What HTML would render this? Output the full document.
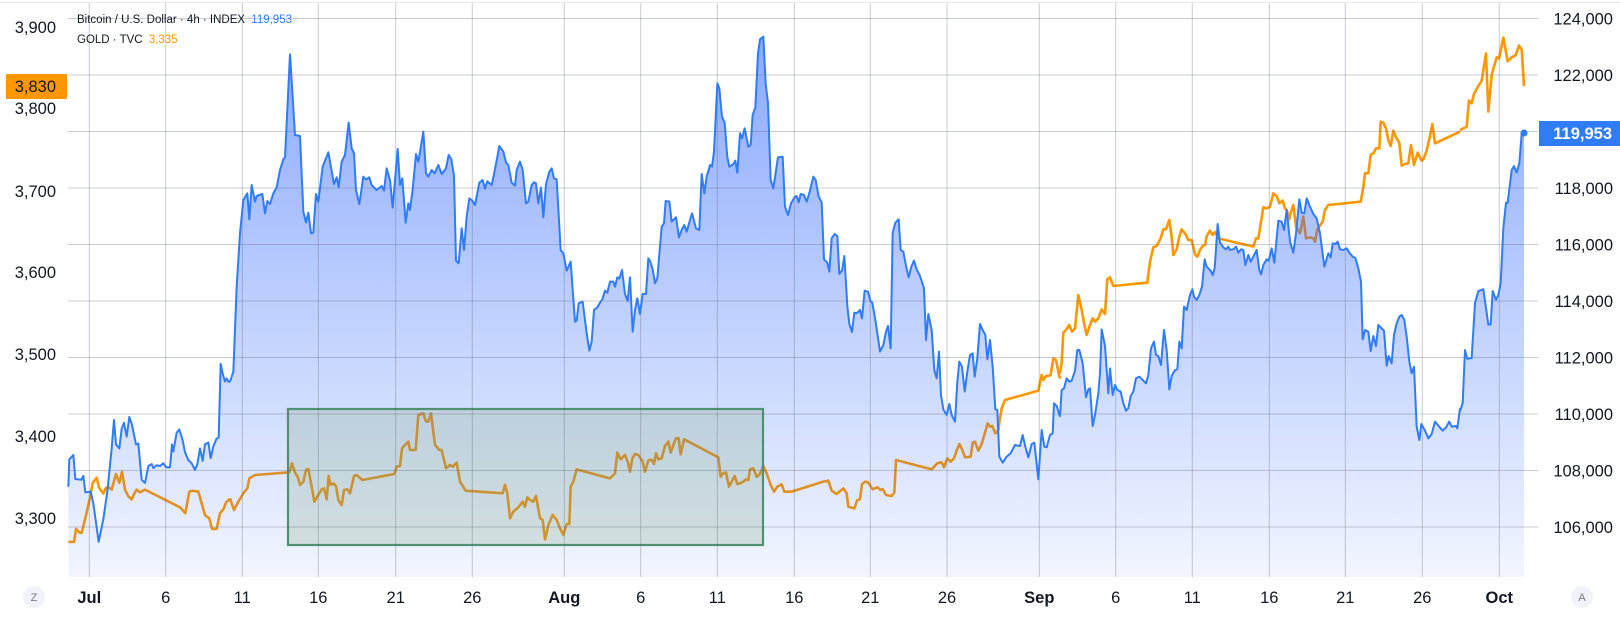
<!DOCTYPE html>
<html><head><meta charset="utf-8"><style>
body{margin:0;background:#fff;}
svg{display:block;font-family:"Liberation Sans",sans-serif;}
</style></head><body>
<svg width="1620" height="617" viewBox="0 0 1620 617" xmlns="http://www.w3.org/2000/svg">
<defs>
<linearGradient id="bf" gradientUnits="userSpaceOnUse" x1="0" y1="20" x2="0" y2="577">
<stop offset="0" stop-color="#2962ff" stop-opacity="0.56"/>
<stop offset="1" stop-color="#2962ff" stop-opacity="0.06"/>
</linearGradient>
<clipPath id="cp">
<polygon transform="translate(0,0.33) scale(0.33333,0.393)" points="205,1470 205,1238 208,1168 220,1157 226,1218 244,1220 250,1210 256,1252 272,1250 280,1280 296,1378 310,1320 322,1250 335,1140 342,1068 348,1130 358,1140 365,1090 372,1075 380,1110 388,1060 396,1080 408,1130 415,1128 425,1220 435,1228 445,1185 455,1180 460,1190 470,1183 480,1185 490,1178 498,1188 510,1188 516,1130 520,1148 530,1100 538,1092 548,1120 555,1150 565,1170 575,1178 585,1195 592,1180 600,1140 608,1172 615,1130 625,1125 632,1165 640,1135 650,1115 656,1113 662,925 668,950 675,970 680,962 685,970 692,968 692,1470"/>
<polygon transform="translate(230,20) scale(0.33333)" points="-1,1672 -1,1085 10,1055 20,800 30,640 40,540 52,520 58,598 65,495 75,545 80,528 97,522 105,580 112,543 120,552 130,520 140,502 150,450 160,418 165,412 180,103 195,345 210,348 220,575 228,607 235,578 243,640 250,638 258,522 265,545 278,440 295,397 312,492 320,472 326,502 335,425 345,405 356,308 365,385 372,400 378,510 388,552 400,470 408,478 418,472 425,495 440,510 455,498 462,512 470,445 480,480 488,563 503,387 510,495 517,475 527,608 535,550 540,570 548,508 558,402 565,425 580,335 588,460 595,470 605,450 614,460 625,435 635,462 648,445 656,405 664,418 672,468 678,722 686,730 695,625 702,690 710,590 718,535 727,542 735,555 748,488 758,480 765,506 772,484 785,495 795,448 808,378 820,395 828,428 835,435 845,488 855,497 860,450 870,425 878,450 888,550 895,545 905,495 912,487 918,490 925,550 933,503 940,592 948,492 958,455 965,445 972,475 980,478 992,690 1000,700 1010,752 1022,725 1035,905 1040,902 1046,850 1058,845 1070,940 1078,992 1085,965 1092,870 1102,862 1110,848 1117,838 1125,812 1132,818 1140,785 1150,785 1155,800 1162,772 1168,776 1176,750 1185,822 1193,843 1200,772 1208,935 1215,870 1222,835 1230,882 1238,822 1248,822 1255,715 1262,725 1262,1672"/>
<polygon transform="translate(640,20) scale(0.33333)" points="29,1672 29,725 38,748 45,790 52,775 65,620 72,610 77,543 88,545 95,605 108,592 117,652 125,630 133,615 140,635 150,600 156,580 168,625 178,630 185,462 193,520 200,470 210,435 216,440 222,395 232,190 238,205 246,290 254,308 262,412 268,440 280,432 286,422 292,458 300,340 306,355 314,325 325,380 332,375 338,285 346,262 354,100 360,58 370,50 377,190 384,250 392,480 400,505 414,412 428,410 435,560 444,585 453,550 465,530 470,528 476,547 482,522 492,525 500,545 510,512 520,470 527,480 536,530 545,547 552,718 562,728 568,755 575,655 584,642 592,648 598,762 606,752 613,708 622,858 628,912 636,936 643,878 650,880 660,870 666,895 674,812 684,815 692,845 697,848 706,900 712,940 720,995 730,975 738,935 744,918 752,985 758,638 766,608 776,598 782,690 790,695 797,733 806,772 814,740 822,722 830,748 840,768 852,805 858,960 865,882 875,930 883,1050 890,1075 897,995 903,1125 910,1168 920,1185 928,1152 935,1185 945,1205 952,1085 958,1025 966,1040 974,1115 982,1055 990,1005 998,1000 1004,1070 1012,1015 1020,912 1028,930 1036,945 1042,1018 1050,960 1058,1040 1066,1168 1072,1170 1078,1310 1088,1328 1100,1310 1112,1300 1125,1275 1140,1278 1148,1245 1156,1280 1165,1312 1175,1272 1183,1268 1195,1378 1205,1230 1213,1280 1220,1282 1230,1245 1238,1240 1242,1150 1250,1158 1262,1195 1262,1672"/>
<polygon transform="translate(1040,20) scale(0.33333)" points="59,1672 59,1190 65,1110 72,1105 80,1075 88,1085 95,1082 105,1052 112,990 118,990 128,1030 138,1132 145,1108 150,1105 158,1218 165,1185 175,1120 180,1060 185,928 195,978 205,1120 210,1045 218,1125 225,1095 232,1110 242,1115 250,1150 258,1172 265,1165 272,1128 280,1115 288,1075 298,1070 310,1082 318,1090 325,1065 333,985 342,965 348,1005 355,1008 363,1035 372,930 380,990 388,1108 395,1068 405,1050 412,1048 418,965 425,985 432,860 440,870 450,825 457,808 462,830 470,840 478,825 486,800 494,718 500,740 512,752 518,765 524,745 533,612 540,668 550,682 558,688 565,680 570,690 580,688 588,680 595,698 603,688 610,690 616,735 625,705 632,725 640,710 650,690 658,750 663,763 670,735 680,718 686,722 695,685 703,728 715,602 725,605 732,630 740,570 750,665 760,698 768,640 778,538 785,578 793,580 800,535 810,560 820,582 830,595 840,640 853,740 865,700 872,712 878,670 886,672 893,665 900,688 910,690 920,685 928,698 938,710 946,714 955,745 963,785 968,958 975,930 985,935 992,993 1000,948 1008,978 1015,915 1025,925 1032,932 1040,1037 1046,1008 1055,1030 1062,945 1070,910 1078,890 1085,885 1093,900 1100,950 1108,1025 1115,1060 1122,1040 1130,1220 1138,1260 1144,1212 1155,1232 1165,1255 1175,1242 1185,1205 1196,1218 1208,1232 1218,1222 1228,1205 1235,1220 1248,1218 1252,1225 1262,1162 1262,1672"/>
<polygon transform="translate(1320,0.33) scale(0.33333,0.393)" points="419,1470 419,1048 428,1025 435,890 442,912 455,910 465,770 475,740 490,735 505,825 512,825 518,740 528,762 535,750 542,720 550,580 558,515 563,515 575,432 582,422 590,438 598,415 605,340 612,338 612,1470"/>
</clipPath>
</defs>

<line x1="0" y1="2.5" x2="1620" y2="2.5" stroke="#e6e8ee" stroke-width="1"/>

<!-- gold line (under fill) -->
<g fill="none" stroke="#ff9800" stroke-width="2.6" stroke-linejoin="round">
<polyline vector-effect="non-scaling-stroke" transform="translate(0,0.33) scale(0.33333,0.393)" points="205,1378 222,1378 228,1345 240,1355 245,1355 258,1310 270,1265 278,1228 290,1215 297,1240 310,1255 318,1240 328,1240 335,1245 348,1205 358,1228 366,1200 375,1245 385,1262 395,1270 403,1255 410,1245 420,1252 435,1245 540,1290 556,1305 568,1250 578,1248 595,1250 605,1280 615,1310 628,1318 636,1345 650,1345 660,1305 670,1295 678,1278 690,1268"/>
<polyline vector-effect="non-scaling-stroke" transform="translate(230,20) scale(0.33333)" points="0,1435 12,1470 25,1445 40,1420 52,1405 58,1375 75,1365 178,1357 186,1330 195,1358 203,1370 210,1395 220,1385 228,1350 235,1347 245,1400 253,1445 265,1425 275,1408 282,1405 290,1438 296,1368 302,1395 310,1390 318,1398 325,1440 335,1455 342,1410 352,1408 360,1420 372,1368 380,1365 397,1380 493,1362 500,1340 510,1338 516,1285 525,1275 535,1265 540,1290 557,1290 565,1185 580,1180 588,1205 595,1205 603,1180 615,1275 628,1290 635,1290 648,1345 660,1335 668,1340 680,1328 690,1385 707,1412 818,1420 825,1395 832,1420 840,1495 850,1475 865,1462 878,1445 885,1460 892,1432 900,1440 910,1445 918,1428 930,1495 938,1500 945,1558 955,1515 968,1485 980,1500 990,1525 1000,1545 1010,1512 1018,1512 1022,1400 1030,1385 1040,1348 1140,1375 1155,1360 1162,1298 1172,1318 1185,1305 1193,1325 1200,1355 1207,1315 1215,1302 1225,1305 1238,1325 1245,1355 1255,1322 1260,1318"/>
<polyline vector-effect="non-scaling-stroke" transform="translate(640,20) scale(0.33333)" points="30,1318 35,1320 42,1332 48,1300 55,1318 65,1315 75,1278 85,1265 92,1298 100,1275 108,1255 116,1255 122,1303 132,1258 235,1312 242,1370 250,1360 258,1357 267,1400 275,1385 284,1368 292,1392 300,1390 310,1385 318,1378 325,1380 330,1348 340,1345 350,1370 358,1365 370,1338 380,1360 392,1395 402,1415 412,1400 425,1393 433,1415 455,1415 550,1385 565,1382 575,1412 590,1422 610,1405 620,1420 625,1460 643,1465 652,1440 660,1438 666,1392 675,1385 685,1388 698,1408 712,1402 722,1410 728,1407 738,1425 755,1428 763,1418 768,1320 875,1348 892,1330 905,1327 912,1342 922,1315 932,1325 942,1315 950,1292 958,1272 965,1285 975,1312 992,1310 998,1268 1005,1265 1015,1292 1025,1272 1033,1245 1043,1210 1050,1220 1057,1218 1066,1240 1075,1230 1080,1195 1085,1165 1095,1140 1195,1112 1205,1065 1210,1080 1218,1068 1225,1068 1232,1065 1240,1015 1248,1020 1258,1070 1262,1075"/>
<polyline vector-effect="non-scaling-stroke" transform="translate(1040,20) scale(0.33333)" points="60,1060 65,1030 70,938 78,930 88,915 96,935 105,925 115,825 125,870 132,908 140,945 150,915 158,895 165,905 175,895 185,868 195,882 202,778 210,772 220,798 322,788 330,725 340,682 350,678 362,655 370,628 378,628 388,600 395,650 400,705 410,688 418,650 425,628 435,640 445,660 455,660 465,703 472,710 480,690 488,678 495,675 500,648 510,632 518,645 525,636 535,655 640,680 648,655 655,655 670,562 680,565 690,560 700,520 710,528 718,550 728,542 735,565 740,570 748,598 752,578 760,555 768,620 780,640 790,590 798,655 810,652 820,655 825,665 832,628 848,605 855,570 865,555 962,545 970,502 975,460 985,460 992,405 1000,400 1008,385 1018,385 1022,305 1030,308 1038,325 1045,360 1052,378 1060,332 1068,352 1078,368 1085,437 1095,432 1105,430 1113,375 1122,435 1133,398 1145,422 1150,418 1160,392 1170,348 1177,312 1185,370 1260,335"/>
<polyline vector-effect="non-scaling-stroke" transform="translate(1320,0.33) scale(0.33333,0.393)" points="420,330 440,322 447,255 455,262 462,238 475,218 485,205 498,135 505,283 515,190 530,145 537,148 550,95 563,155 575,145 587,140 597,115 605,125 612,218"/>
</g>

<!-- BTC fill -->
<rect x="60" y="0" width="1480" height="577" fill="url(#bf)" clip-path="url(#cp)"/>

<!-- green box -->
<rect x="288" y="409" width="475" height="136" fill="rgba(120,160,110,0.22)" stroke="#4f9170" stroke-width="2.2"/>

<!-- grid -->
<g stroke="rgba(90,95,110,0.32)" stroke-width="1">
<line x1="68" y1="18.5" x2="1538" y2="18.5"/>
<line x1="68" y1="75" x2="1538" y2="75"/>
<line x1="68" y1="131.5" x2="1538" y2="131.5"/>
<line x1="68" y1="188" x2="1538" y2="188"/>
<line x1="68" y1="244.5" x2="1538" y2="244.5"/>
<line x1="68" y1="301" x2="1538" y2="301"/>
<line x1="68" y1="357.5" x2="1538" y2="357.5"/>
<line x1="68" y1="414" x2="1538" y2="414"/>
<line x1="68" y1="470.5" x2="1538" y2="470.5"/>
<line x1="68" y1="527" x2="1538" y2="527"/>
<line x1="89.3" y1="3" x2="89.3" y2="577"/>
<line x1="165.7" y1="3" x2="165.7" y2="577"/>
<line x1="242.3" y1="3" x2="242.3" y2="577"/>
<line x1="318.3" y1="3" x2="318.3" y2="577"/>
<line x1="395.7" y1="3" x2="395.7" y2="577"/>
<line x1="472.3" y1="3" x2="472.3" y2="577"/>
<line x1="564.3" y1="3" x2="564.3" y2="577"/>
<line x1="640.7" y1="3" x2="640.7" y2="577"/>
<line x1="717.3" y1="3" x2="717.3" y2="577"/>
<line x1="794.3" y1="3" x2="794.3" y2="577"/>
<line x1="870.3" y1="3" x2="870.3" y2="577"/>
<line x1="947" y1="3" x2="947" y2="577"/>
<line x1="1039.3" y1="3" x2="1039.3" y2="577"/>
<line x1="1115.7" y1="3" x2="1115.7" y2="577"/>
<line x1="1192.3" y1="3" x2="1192.3" y2="577"/>
<line x1="1269.3" y1="3" x2="1269.3" y2="577"/>
<line x1="1345.3" y1="3" x2="1345.3" y2="577"/>
<line x1="1422.3" y1="3" x2="1422.3" y2="577"/>
<line x1="1499.3" y1="3" x2="1499.3" y2="577"/>
</g>

<!-- BTC line -->
<g fill="none" stroke="#2f7cf6" stroke-width="2" stroke-linejoin="round">
<polyline vector-effect="non-scaling-stroke" transform="translate(0,0.33) scale(0.33333,0.393)" points="205,1238 208,1168 220,1157 226,1218 244,1220 250,1210 256,1252 272,1250 280,1280 296,1378 310,1320 322,1250 335,1140 342,1068 348,1130 358,1140 365,1090 372,1075 380,1110 388,1060 396,1080 408,1130 415,1128 425,1220 435,1228 445,1185 455,1180 460,1190 470,1183 480,1185 490,1178 498,1188 510,1188 516,1130 520,1148 530,1100 538,1092 548,1120 555,1150 565,1170 575,1178 585,1195 592,1180 600,1140 608,1172 615,1130 625,1125 632,1165 640,1135 650,1115 656,1113 662,925 668,950 675,970 680,962 685,970 690,972"/>
<polyline vector-effect="non-scaling-stroke" transform="translate(230,20) scale(0.33333)" points="0,1085 10,1055 20,800 30,640 40,540 52,520 58,598 65,495 75,545 80,528 97,522 105,580 112,543 120,552 130,520 140,502 150,450 160,418 165,412 180,103 195,345 210,348 220,575 228,607 235,578 243,640 250,638 258,522 265,545 278,440 295,397 312,492 320,472 326,502 335,425 345,405 356,308 365,385 372,400 378,510 388,552 400,470 408,478 418,472 425,495 440,510 455,498 462,512 470,445 480,480 488,563 503,387 510,495 517,475 527,608 535,550 540,570 548,508 558,402 565,425 580,335 588,460 595,470 605,450 614,460 625,435 635,462 648,445 656,405 664,418 672,468 678,722 686,730 695,625 702,690 710,590 718,535 727,542 735,555 748,488 758,480 765,506 772,484 785,495 795,448 808,378 820,395 828,428 835,435 845,488 855,497 860,450 870,425 878,450 888,550 895,545 905,495 912,487 918,490 925,550 933,503 940,592 948,492 958,455 965,445 972,475 980,478 992,690 1000,700 1010,752 1022,725 1035,905 1040,902 1046,850 1058,845 1070,940 1078,992 1085,965 1092,870 1102,862 1110,848 1117,838 1125,812 1132,818 1140,785 1150,785 1155,800 1162,772 1168,776 1176,750 1185,822 1193,843 1200,772 1208,935 1215,870 1222,835 1230,882 1238,822 1248,822 1255,715 1260,722"/>
<polyline vector-effect="non-scaling-stroke" transform="translate(640,20) scale(0.33333)" points="30,722 38,748 45,790 52,775 65,620 72,610 77,543 88,545 95,605 108,592 117,652 125,630 133,615 140,635 150,600 156,580 168,625 178,630 185,462 193,520 200,470 210,435 216,440 222,395 232,190 238,205 246,290 254,308 262,412 268,440 280,432 286,422 292,458 300,340 306,355 314,325 325,380 332,375 338,285 346,262 354,100 360,58 370,50 377,190 384,250 392,480 400,505 414,412 428,410 435,560 444,585 453,550 465,530 470,528 476,547 482,522 492,525 500,545 510,512 520,470 527,480 536,530 545,547 552,718 562,728 568,755 575,655 584,642 592,648 598,762 606,752 613,708 622,858 628,912 636,936 643,878 650,880 660,870 666,895 674,812 684,815 692,845 697,848 706,900 712,940 720,995 730,975 738,935 744,918 752,985 758,638 766,608 776,598 782,690 790,695 797,733 806,772 814,740 822,722 830,748 840,768 852,805 858,960 865,882 875,930 883,1050 890,1075 897,995 903,1125 910,1168 920,1185 928,1152 935,1185 945,1205 952,1085 958,1025 966,1040 974,1115 982,1055 990,1005 998,1000 1004,1070 1012,1015 1020,912 1028,930 1036,945 1042,1018 1050,960 1058,1040 1066,1168 1072,1170 1078,1310 1088,1328 1100,1310 1112,1300 1125,1275 1140,1278 1148,1245 1156,1280 1165,1312 1175,1272 1183,1268 1195,1378 1205,1230 1213,1280 1220,1282 1230,1245 1238,1240 1242,1150 1250,1158 1260,1190"/>
<polyline vector-effect="non-scaling-stroke" transform="translate(1040,20) scale(0.33333)" points="60,1190 65,1110 72,1105 80,1075 88,1085 95,1082 105,1052 112,990 118,990 128,1030 138,1132 145,1108 150,1105 158,1218 165,1185 175,1120 180,1060 185,928 195,978 205,1120 210,1045 218,1125 225,1095 232,1110 242,1115 250,1150 258,1172 265,1165 272,1128 280,1115 288,1075 298,1070 310,1082 318,1090 325,1065 333,985 342,965 348,1005 355,1008 363,1035 372,930 380,990 388,1108 395,1068 405,1050 412,1048 418,965 425,985 432,860 440,870 450,825 457,808 462,830 470,840 478,825 486,800 494,718 500,740 512,752 518,765 524,745 533,612 540,668 550,682 558,688 565,680 570,690 580,688 588,680 595,698 603,688 610,690 616,735 625,705 632,725 640,710 650,690 658,750 663,763 670,735 680,718 686,722 695,685 703,728 715,602 725,605 732,630 740,570 750,665 760,698 768,640 778,538 785,578 793,580 800,535 810,560 820,582 830,595 840,640 853,740 865,700 872,712 878,670 886,672 893,665 900,688 910,690 920,685 928,698 938,710 946,714 955,745 963,785 968,958 975,930 985,935 992,993 1000,948 1008,978 1015,915 1025,925 1032,932 1040,1037 1046,1008 1055,1030 1062,945 1070,910 1078,890 1085,885 1093,900 1100,950 1108,1025 1115,1060 1122,1040 1130,1220 1138,1260 1144,1212 1155,1232 1165,1255 1175,1242 1185,1205 1196,1218 1208,1232 1218,1222 1228,1205 1235,1220 1248,1218 1252,1225 1260,1165"/>
<polyline vector-effect="non-scaling-stroke" transform="translate(1320,0.33) scale(0.33333,0.393)" points="420,1045 428,1025 435,890 442,912 455,910 465,770 475,740 490,735 505,825 512,825 518,740 528,762 535,750 542,720 550,580 558,515 563,515 575,432 582,422 590,438 598,415 605,340 612,338 618,338"/>
</g>
<circle cx="1524" cy="133" r="3.5" fill="#2f7cf6"/>

<!-- legend -->
<text x="77" y="23" font-size="11.5" fill="#131722">Bitcoin / U.S. Dollar · 4h · INDEX <tspan fill="#2f7cf6" dx="3">119,953</tspan></text>
<text x="77" y="43" font-size="11.5" fill="#131722">GOLD · TVC <tspan fill="#ff9800" dx="3">3,335</tspan></text>

<!-- left axis -->
<g font-size="16.5" fill="#131722" text-anchor="end">
<text x="56" y="33">3,900</text>
<text x="56" y="114">3,800</text>
<text x="56" y="197">3,700</text>
<text x="56" y="278">3,600</text>
<text x="56" y="360">3,500</text>
<text x="56" y="442">3,400</text>
<text x="56" y="524">3,300</text>
</g>
<rect x="6" y="74" width="61" height="25" fill="#ff9800"/>
<text x="56" y="92" font-size="16.5" fill="#131722" text-anchor="end">3,830</text>

<!-- right axis -->
<g font-size="16.5" fill="#131722" text-anchor="end">
<text x="1613" y="24.5">124,000</text>
<text x="1613" y="81">122,000</text>
<text x="1613" y="194">118,000</text>
<text x="1613" y="250.5">116,000</text>
<text x="1613" y="307">114,000</text>
<text x="1613" y="363.5">112,000</text>
<text x="1613" y="420">110,000</text>
<text x="1613" y="476.5">108,000</text>
<text x="1613" y="533">106,000</text>
</g>
<rect x="1539" y="121" width="81" height="25" fill="#2f7cf6"/>
<text x="1612" y="139" font-size="16.5" font-weight="bold" fill="#fff" text-anchor="end">119,953</text>

<!-- x axis -->
<g font-size="16.5" fill="#131722" text-anchor="middle">
<text x="89.3" y="603" font-weight="bold">Jul</text>
<text x="165.7" y="603">6</text>
<text x="242.3" y="603">11</text>
<text x="318.3" y="603">16</text>
<text x="395.7" y="603">21</text>
<text x="472.3" y="603">26</text>
<text x="564.3" y="603" font-weight="bold">Aug</text>
<text x="640.7" y="603">6</text>
<text x="717.3" y="603">11</text>
<text x="794.3" y="603">16</text>
<text x="870.3" y="603">21</text>
<text x="947" y="603">26</text>
<text x="1039.3" y="603" font-weight="bold">Sep</text>
<text x="1115.7" y="603">6</text>
<text x="1192.3" y="603">11</text>
<text x="1269.3" y="603">16</text>
<text x="1345.3" y="603">21</text>
<text x="1422.3" y="603">26</text>
<text x="1499.3" y="603" font-weight="bold">Oct</text>
</g>
<circle cx="34" cy="597" r="11" fill="#f0f3fa"/>
<text x="34" y="601" font-size="11" fill="#787b86" text-anchor="middle">Z</text>
<circle cx="1582" cy="597" r="11" fill="#f0f3fa"/>
<text x="1582" y="601" font-size="11" fill="#787b86" text-anchor="middle">A</text>
</svg>
</body></html>
